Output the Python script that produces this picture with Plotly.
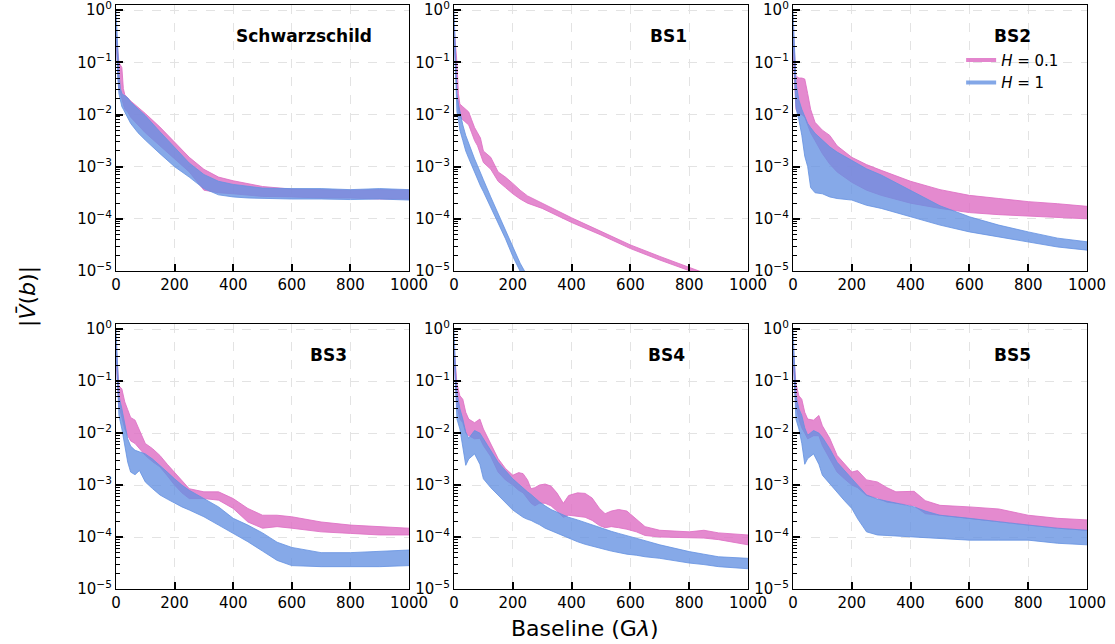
import numpy as np
import plotly.graph_objects as go
from plotly.subplots import make_subplots

# Envelopes of the visibility amplitude bands as log10(|V|)
# (hi = upper edge, lo = lower edge). H=0.1 is pink, H=1 is blue.

schw_x = [0, 3, 6, 10, 15, 20, 25, 30, 40, 50, 75, 100, 150, 200, 250, 300, 350, 400, 450, 500, 600, 700, 800, 900, 1000]
schw_h01_hi = [-0.4, -0.6, -0.9, -1.0, -1.05, -1.1, -1.5, -1.62, -1.68, -1.74, -1.86, -1.98, -2.24, -2.52, -2.82, -3.05, -3.2, -3.27, -3.33, -3.38, -3.43, -3.44, -3.45, -3.44, -3.45]
schw_h01_lo = [-0.6, -0.9, -1.2, -1.5, -1.6, -1.7, -1.85, -1.9, -1.95, -2.05, -2.2, -2.35, -2.6, -2.85, -3.1, -3.45, -3.5, -3.52, -3.55, -3.57, -3.58, -3.6, -3.6, -3.62, -3.62]
schw_h1_hi = [0.0, -0.4, -0.9, -1.2, -1.5, -1.6, -1.62, -1.64, -1.68, -1.76, -1.9, -2.02, -2.33, -2.64, -2.93, -3.15, -3.28, -3.34, -3.38, -3.41, -3.42, -3.42, -3.44, -3.42, -3.44]
schw_h1_lo = [-0.3, -0.9, -1.3, -1.6, -1.75, -1.85, -1.9, -1.95, -2.05, -2.17, -2.35, -2.49, -2.75, -3.0, -3.2, -3.42, -3.54, -3.58, -3.6, -3.61, -3.62, -3.62, -3.63, -3.62, -3.64]

bs1_x = [0, 3, 6, 10, 15, 20, 30, 40, 50, 60, 70, 80, 90, 100, 125, 150, 175, 200, 225, 250, 300, 400, 500, 600, 700, 800, 900, 1000]
bs1_h01_hi = [-0.3, -0.5, -0.8, -1.0, -1.6, -1.8, -1.85, -1.9, -1.95, -2.1, -2.25, -2.35, -2.45, -2.7, -2.82, -3.1, -3.2, -3.32, -3.45, -3.56, -3.7, -3.98, -4.24, -4.5, -4.72, -4.93, -5.15, -5.35]
bs1_h01_lo = [-0.6, -0.9, -1.3, -1.5, -1.9, -2.05, -2.1, -2.15, -2.2, -2.35, -2.5, -2.6, -2.75, -2.92, -3.05, -3.28, -3.4, -3.52, -3.62, -3.7, -3.8, -4.07, -4.31, -4.57, -4.79, -5.0, -5.2, -5.4]
bs1_h1_hi = [0.0, -0.5, -1.0, -1.6, -1.8, -1.95, -2.2, -2.4, -2.56, -2.7, -2.85, -2.98, -3.1, -3.25, -3.58, -3.9, -4.22, -4.55, -4.85, -5.1, -5.7, -6.8, -7.5, -8.0, -8.0, -8.0, -8.0, -8.0]
bs1_h1_lo = [-0.4, -1.0, -1.5, -1.95, -2.1, -2.3, -2.5, -2.7, -2.84, -2.98, -3.12, -3.25, -3.37, -3.48, -3.77, -4.06, -4.38, -4.72, -5.0, -5.25, -5.85, -7.0, -7.7, -8.2, -8.2, -8.2, -8.2, -8.2]

bs2_x = [0, 3, 6, 10, 15, 20, 30, 40, 50, 60, 75, 100, 125, 150, 200, 250, 300, 400, 500, 600, 700, 800, 900, 1000]
bs2_h01_hi = [-0.3, -0.6, -1.0, -1.28, -1.28, -1.3, -1.3, -1.32, -1.6, -1.9, -2.15, -2.3, -2.4, -2.6, -2.82, -2.96, -3.07, -3.28, -3.44, -3.55, -3.61, -3.67, -3.71, -3.76]
bs2_h01_lo = [-0.8, -1.1, -1.4, -1.9, -1.95, -2.0, -2.0, -2.05, -2.2, -2.35, -2.5, -2.75, -2.95, -3.1, -3.3, -3.45, -3.55, -3.7, -3.8, -3.88, -3.92, -3.95, -3.97, -4.0]
bs2_h1_hi = [0.0, -0.5, -1.0, -1.4, -1.55, -1.72, -1.9, -2.05, -2.17, -2.25, -2.36, -2.49, -2.62, -2.72, -2.88, -3.04, -3.16, -3.46, -3.75, -3.96, -4.12, -4.25, -4.37, -4.44]
bs2_h1_lo = [-0.5, -1.0, -1.5, -1.85, -2.0, -2.1, -2.4, -2.8, -3.0, -3.4, -3.5, -3.52, -3.58, -3.61, -3.64, -3.74, -3.8, -3.96, -4.12, -4.25, -4.35, -4.44, -4.54, -4.6]

bs3_x = [0, 3, 6, 10, 20, 30, 40, 50, 65, 80, 100, 125, 150, 175, 200, 225, 250, 300, 350, 400, 450, 500, 550, 600, 700, 800, 900, 1000]
bs3_h01_hi = [-0.3, -0.6, -0.9, -1.09, -1.15, -1.4, -1.55, -1.7, -1.75, -1.95, -2.2, -2.3, -2.43, -2.6, -2.75, -2.9, -3.07, -3.13, -3.13, -3.26, -3.45, -3.58, -3.58, -3.61, -3.71, -3.77, -3.8, -3.83]
bs3_h01_lo = [-0.6, -0.9, -1.2, -1.47, -1.7, -1.92, -2.05, -2.15, -2.2, -2.3, -2.43, -2.55, -2.65, -2.82, -3.0, -3.15, -3.26, -3.26, -3.29, -3.45, -3.71, -3.83, -3.8, -3.83, -3.9, -3.93, -3.96, -3.96]
bs3_h1_hi = [0.0, -0.5, -0.9, -1.28, -1.53, -1.8, -2.11, -2.25, -2.33, -2.36, -2.4, -2.5, -2.62, -2.75, -2.88, -3.0, -3.1, -3.26, -3.42, -3.64, -3.77, -3.92, -4.1, -4.2, -4.3, -4.3, -4.28, -4.25]
bs3_h1_lo = [-0.4, -0.9, -1.3, -1.66, -1.92, -2.25, -2.56, -2.75, -2.8, -2.72, -2.94, -3.07, -3.19, -3.27, -3.35, -3.42, -3.48, -3.61, -3.77, -3.93, -4.09, -4.27, -4.45, -4.55, -4.57, -4.57, -4.57, -4.55]

bs4_x = [0, 3, 6, 10, 20, 30, 40, 50, 70, 88, 100, 125, 150, 175, 200,
         220, 235, 250, 262, 275, 290, 310, 330, 350, 372, 390, 420, 446, 470, 495, 514, 535, 560, 588, 620, 650,
         700, 800, 850, 900, 1000]
bs4_h01_hi = [-0.3, -0.6, -0.9, -1.05, -1.28, -1.35, -1.6, -1.73, -1.8, -1.73, -1.92, -2.2, -2.49, -2.68, -2.81,
              -2.76, -2.78, -2.9, -3.07, -3.05, -3.0, -2.98, -3.02, -3.15, -3.35, -3.2, -3.15, -3.16, -3.25, -3.45, -3.55, -3.5, -3.47, -3.5, -3.65, -3.8,
              -3.87, -3.9, -3.87, -3.92, -3.96]
bs4_h01_lo = [-0.6, -0.9, -1.2, -1.47, -1.73, -1.8, -2.0, -2.05, -2.11, -2.1, -2.24, -2.45, -2.75, -2.9, -3.0,
              -3.1, -3.15, -3.25, -3.35, -3.4, -3.35, -3.35, -3.4, -3.5, -3.62, -3.58, -3.6, -3.62, -3.68, -3.78, -3.82, -3.8, -3.82, -3.85, -3.9, -3.97,
              -4.0, -4.02, -4.02, -4.05, -4.15]
bs4_h1_hi = [0.0, -0.5, -0.9, -1.21, -1.53, -1.73, -1.98, -2.1, -1.95, -2.0, -2.11, -2.35, -2.56, -2.72, -2.88,
             -2.98, -3.06, -3.13, -3.18, -3.25, -3.32, -3.4, -3.47, -3.52, -3.58, -3.62, -3.67, -3.72, -3.77, -3.82, -3.85, -3.89, -3.93, -3.97, -4.02, -4.07,
             -4.15, -4.28, -4.33, -4.38, -4.41]
bs4_h1_lo = [-0.4, -0.9, -1.3, -1.73, -1.92, -2.3, -2.62, -2.5, -2.4, -2.6, -2.88, -3.05, -3.19, -3.35, -3.48,
             -3.56, -3.62, -3.66, -3.68, -3.72, -3.76, -3.83, -3.88, -3.93, -3.98, -4.03, -4.09, -4.14, -4.18, -4.22, -4.24, -4.27, -4.3, -4.33, -4.35, -4.38,
             -4.41, -4.5, -4.53, -4.57, -4.61]

bs5_x = [0, 3, 6, 10, 20, 30, 40, 50, 70, 88, 100, 125, 150, 175, 200, 220, 250, 287, 320, 350, 412, 450, 500, 600, 700, 800, 900, 1000]
bs5_h01_hi = [-0.3, -0.6, -0.9, -1.05, -1.28, -1.35, -1.6, -1.73, -1.75, -1.66, -1.86, -2.1, -2.43, -2.6, -2.75, -2.72, -2.9, -2.94, -3.05, -3.13, -3.12, -3.3, -3.39, -3.42, -3.46, -3.58, -3.64, -3.67]
bs5_h01_lo = [-0.6, -0.9, -1.2, -1.47, -1.73, -1.9, -2.0, -2.11, -2.05, -2.05, -2.24, -2.5, -2.75, -2.88, -3.0, -3.05, -3.2, -3.25, -3.33, -3.35, -3.4, -3.55, -3.58, -3.64, -3.71, -3.77, -3.83, -3.87]
bs5_h1_hi = [0.0, -0.5, -0.9, -1.28, -1.53, -1.66, -1.9, -2.04, -1.95, -2.0, -2.08, -2.3, -2.56, -2.72, -2.88, -3.0, -3.19, -3.27, -3.31, -3.35, -3.42, -3.5, -3.58, -3.64, -3.71, -3.77, -3.83, -3.87]
bs5_h1_lo = [-0.4, -0.9, -1.3, -1.73, -1.92, -2.2, -2.6, -2.49, -2.4, -2.6, -2.81, -2.98, -3.13, -3.3, -3.45, -3.65, -3.9, -3.96, -3.97, -3.98, -3.99, -4.01, -4.03, -4.06, -4.06, -4.06, -4.12, -4.15]

panel_names = ["Schwarzschild", "BS1", "BS2", "BS3", "BS4", "BS5"]
series_names = ["<i>H</i> = 0.1", "<i>H</i> = 1"]

panels = [
    (schw_x, schw_h01_hi, schw_h01_lo, schw_h1_hi, schw_h1_lo),
    (bs1_x, bs1_h01_hi, bs1_h01_lo, bs1_h1_hi, bs1_h1_lo),
    (bs2_x, bs2_h01_hi, bs2_h01_lo, bs2_h1_hi, bs2_h1_lo),
    (bs3_x, bs3_h01_hi, bs3_h01_lo, bs3_h1_hi, bs3_h1_lo),
    (bs4_x, bs4_h01_hi, bs4_h01_lo, bs4_h1_hi, bs4_h1_lo),
    (bs5_x, bs5_h01_hi, bs5_h01_lo, bs5_h1_hi, bs5_h1_lo),
]

pink_line = "rgba(222,112,196,0.85)"
pink_fill = "rgba(222,112,196,0.82)"
blue_line = "rgba(100,145,225,0.8)"
blue_fill = "rgba(100,145,225,0.78)"

W, H = 1115, 644
# plot boxes in pixels (left, right) and (top, bottom)
cols_px = [(116, 409), (454, 748), (793, 1087)]
rows_px = [(5, 271), (324, 589)]

fig = make_subplots(rows=2, cols=3)

for i, (x, ph, pl, bh, bl) in enumerate(panels):
    r, c = i // 3 + 1, i % 3 + 1
    for hi, lo, lc, fc in [(ph, pl, pink_line, pink_fill), (bh, bl, blue_line, blue_fill)]:
        fig.add_trace(go.Scatter(x=x, y=10 ** np.array(lo), mode="lines",
                                 line=dict(color=lc, width=1), showlegend=False,
                                 hoverinfo="skip"), row=r, col=c)
        fig.add_trace(go.Scatter(x=x, y=10 ** np.array(hi), mode="lines",
                                 line=dict(color=lc, width=1), fill="tonexty",
                                 fillcolor=fc, showlegend=False,
                                 hoverinfo="skip"), row=r, col=c)

# legend entries (BS2 panel)
fig.add_trace(go.Scatter(x=[None], y=[None], mode="lines", name=series_names[0],
                         line=dict(color=pink_line, width=4)), row=1, col=3)
fig.add_trace(go.Scatter(x=[None], y=[None], mode="lines", name=series_names[1],
                         line=dict(color=blue_line, width=4)), row=1, col=3)

minor_vals = [k * 10.0 ** e for e in range(-5, 0) for k in range(2, 10)]
ytv = [10.0 ** e for e in range(-5, 1)]
ytt = ["10<sup>%s</sup>" % (str(e).replace("-", "\u2212")) for e in range(-5, 1)]

for i in range(6):
    r, c = i // 3, i % 3
    xs = "xaxis" if i == 0 else "xaxis%d" % (i + 1)
    ys = "yaxis" if i == 0 else "yaxis%d" % (i + 1)
    l, rr = cols_px[c]
    t, b = rows_px[r]
    fig.layout[xs].update(
        domain=[l / W, rr / W], range=[0, 1000], tickvals=[0, 200, 400, 600, 800, 1000],
        ticks="inside", ticklen=7, tickwidth=1.5, tickcolor="black",
        showline=True, linecolor="black", linewidth=1.3, mirror=True,
        showgrid=True, gridcolor="#e3e3e3", griddash="dash", gridwidth=1,
        zeroline=False, automargin=False, ticklabeloverflow="allow",
        tickfont=dict(size=15, color="black"))
    fig.layout[ys].update(
        domain=[1 - b / H, 1 - t / H], type="log", range=[-5, 0.1],
        tickmode="array", tickvals=ytv, ticktext=ytt,
        ticks="inside", ticklen=7, tickwidth=1.5, tickcolor="black",
        minor=dict(tickmode="array", tickvals=minor_vals, ticks="inside",
                   ticklen=4, tickwidth=1, tickcolor="black", showgrid=False),
        showline=True, linecolor="black", linewidth=1.3, mirror=True,
        showgrid=True, gridcolor="#e3e3e3", griddash="dash", gridwidth=1,
        zeroline=False, automargin=False, ticklabeloverflow="allow",
        tickfont=dict(size=15, color="black"))

title_pos = [(304, 36), (668, 36), (1012, 36), (328, 355), (666, 355), (1012, 355)]
for name, (px, py) in zip(panel_names, title_pos):
    fig.add_annotation(x=px / W, y=1 - py / H, xref="paper", yref="paper",
                       xanchor="center", yanchor="middle",
                       text="<b>%s</b>" % name, showarrow=False,
                       font=dict(size=17, color="black"))

fig.add_annotation(x=585 / W, y=1 - 628 / H, xref="paper", yref="paper",
                   xanchor="center", yanchor="middle",
                   text="Baseline (G<i>λ</i>)", showarrow=False,
                   font=dict(size=22, color="black"))
fig.add_annotation(x=28 / W, y=1 - 297 / H, xref="paper", yref="paper",
                   xanchor="center", yanchor="middle",
                   text="|<i>V\u0304</i>(<i>b</i>)|", showarrow=False, textangle=-90,
                   font=dict(size=22, color="black"))

fig.update_layout(
    width=W, height=H, margin=dict(l=0, r=0, t=0, b=0, autoexpand=False),
    paper_bgcolor="white", plot_bgcolor="white",
    font=dict(family="DejaVu Sans", color="black"),
    legend=dict(x=0.862, y=0.932, xanchor="left", yanchor="top",
                bgcolor="rgba(0,0,0,0)", font=dict(size=15), itemwidth=30,
                traceorder="normal", tracegroupgap=0),
)

# drop the default page margin so the figure sits at the window's top-left corner
fig.write_html("out.html", config={"displayModeBar": False},
               post_script="document.body.style.margin='0px';")
